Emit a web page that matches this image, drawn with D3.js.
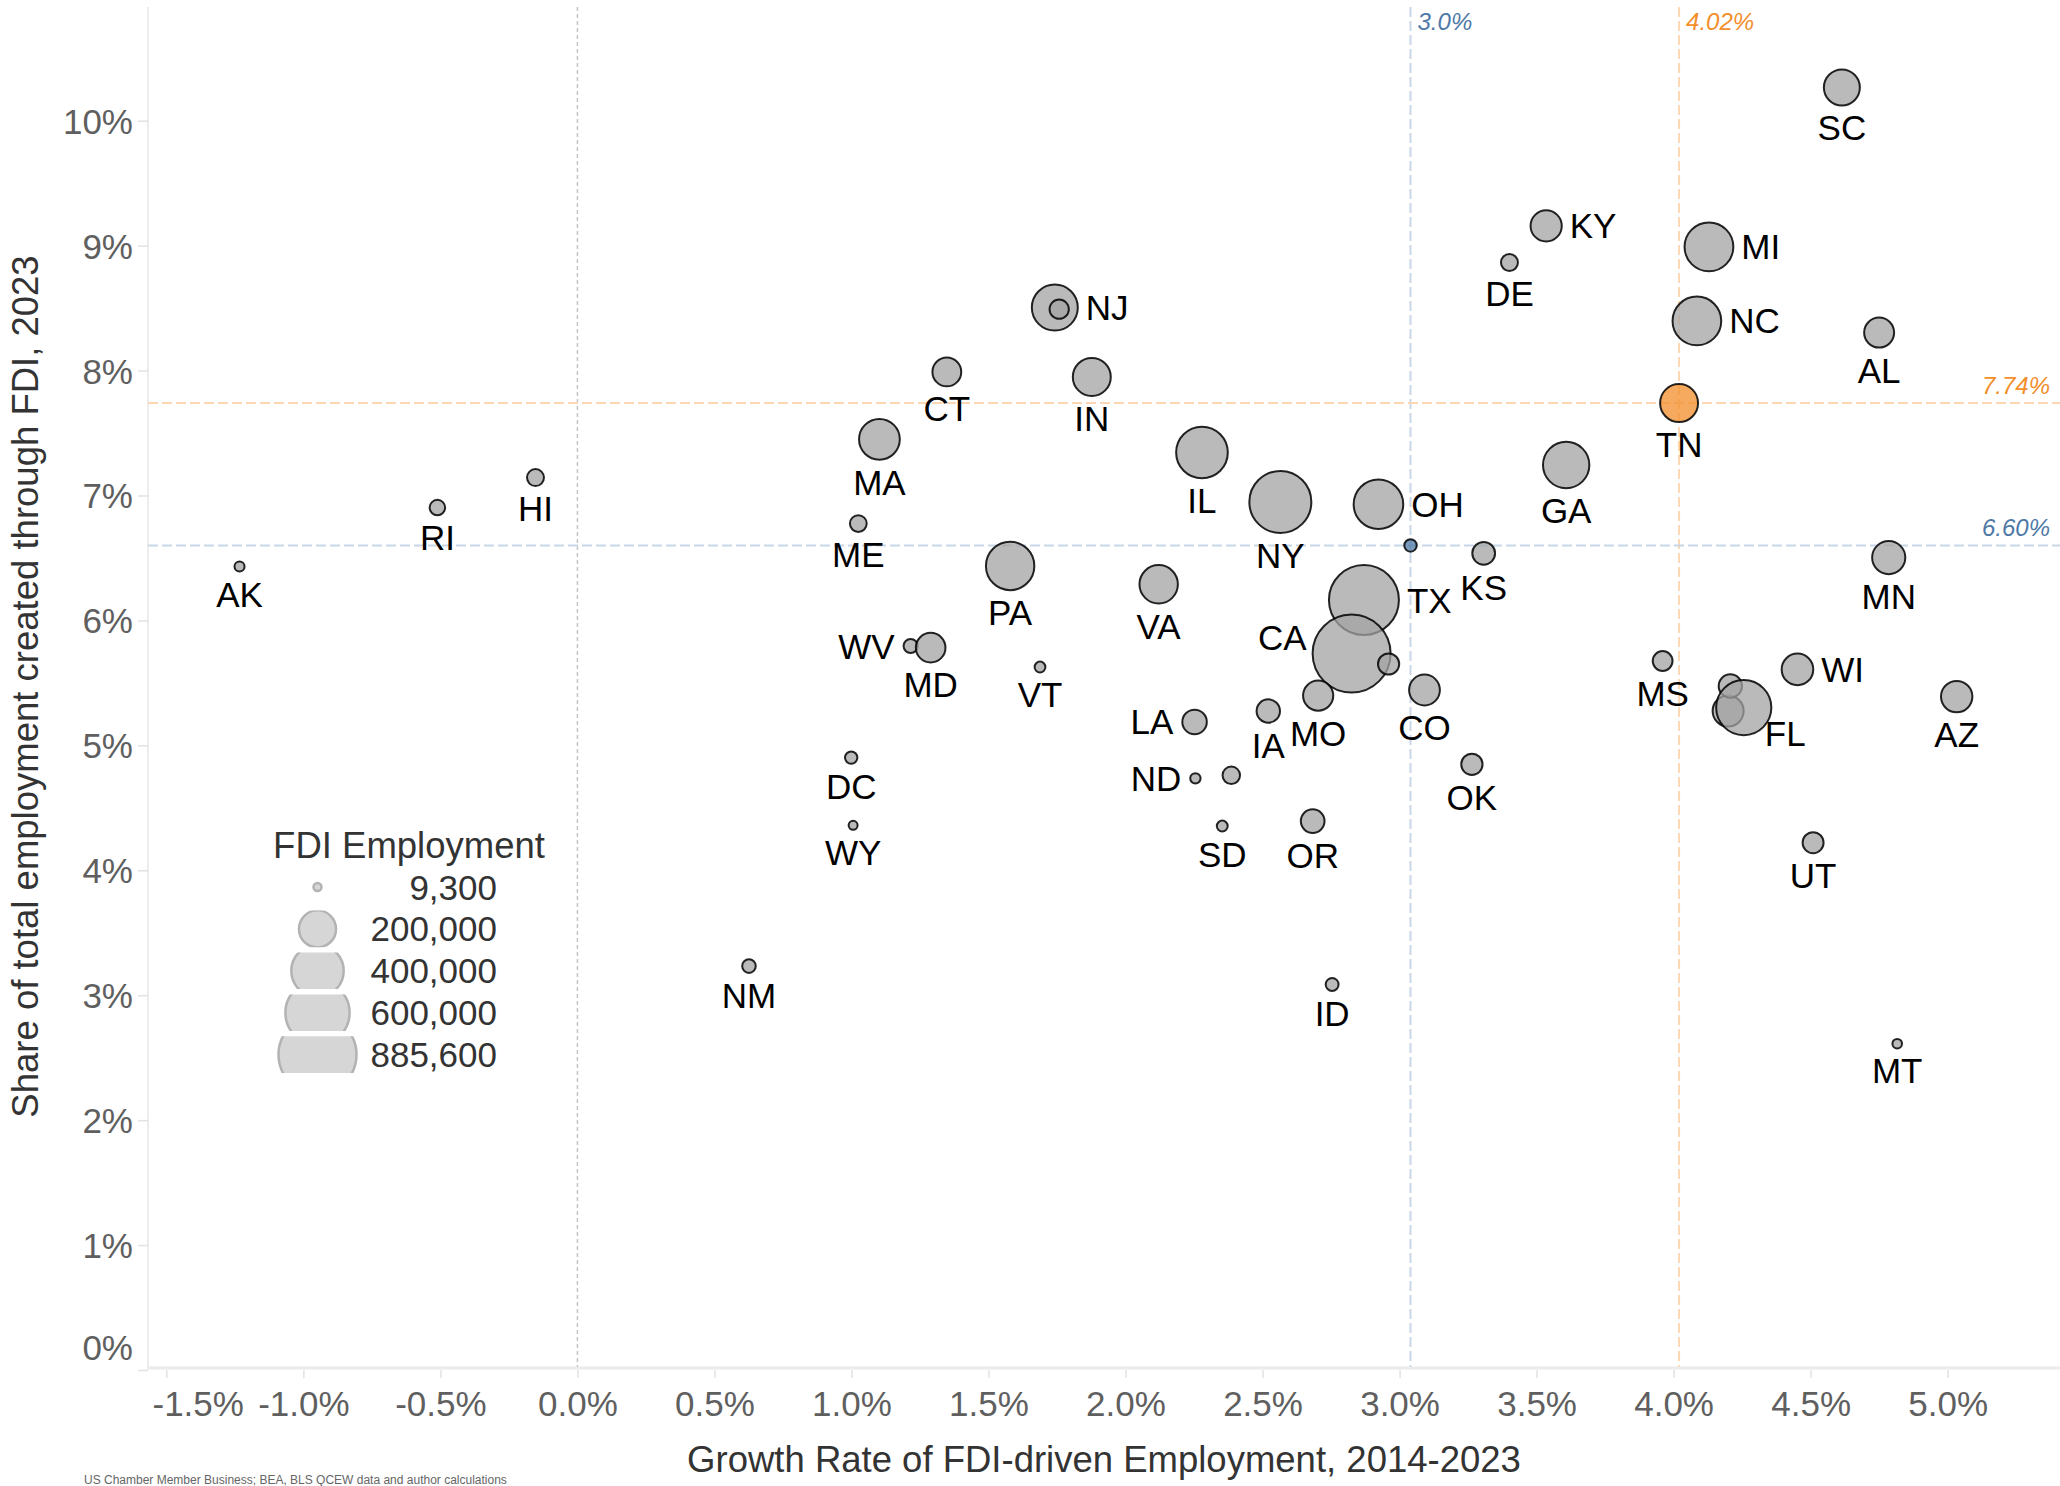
<!DOCTYPE html>
<html><head><meta charset="utf-8">
<script src="https://cdn.jsdelivr.net/npm/d3@7"></script>
<style>
html,body{margin:0;padding:0;background:#fff;}
svg{display:block;font-family:"Liberation Sans",Arial,sans-serif;}
</style></head><body>
<svg id="chart" width="2060" height="1486"></svg>
<script>
// ---------- DATA ----------
const states = ["AK","RI","HI","NJ","NH","CT","IN","MA","IL","ME","NY","OH","PA","VA","WV","MD","VT","TX","CA","NV","MO","IA","LA","ND","NE","SD","OR","DC","WY","NM","ID","CO","KS","OK","US","DE","KY","GA","MS","TN","NC","MI","WA","AR","FL","WI","UT","SC","AL","MN","MT","AZ"];
const growthRate = [-1.233,-0.511,-0.153,1.742,1.758,1.348,1.877,1.102,2.279,1.025,2.565,2.923,1.579,2.121,1.216,1.289,1.688,2.870,2.825,2.960,2.703,2.521,2.252,2.255,2.386,2.353,2.683,0.999,1.006,0.626,2.754,3.091,3.307,3.264,3.04,3.401,3.535,3.608,3.960,4.02,4.085,4.129,4.199,4.207,4.256,4.452,4.509,4.614,4.750,4.785,4.816,5.033];
const fdiShare = [6.431,6.903,7.143,8.504,8.491,7.989,7.949,7.450,7.344,6.775,6.948,6.930,6.436,6.289,5.795,5.782,5.627,6.163,5.735,5.651,5.398,5.275,5.187,4.736,4.760,4.354,4.394,4.902,4.360,3.233,3.086,5.443,6.537,4.848,6.60,8.865,9.158,7.244,5.675,7.74,8.397,8.990,5.275,5.475,5.302,5.608,4.221,10.266,8.304,6.503,2.612,5.390];
const fdiEmployment = [14800,35000,42000,308000,54000,121000,210000,242000,389000,41000,560000,358000,341000,215000,29300,127500,17000,713000,885600,65400,132800,79700,87400,15700,44600,17300,81800,22400,11800,26900,24200,138000,75700,66000,22400,42000,141700,313000,57000,210000,345000,347000,140000,79000,443500,145300,64200,188600,131000,160400,13400,143500];

const xTickValues = [-1.5,-1.0,-0.5,0.0,0.5,1.0,1.5,2.0,2.5,3.0,3.5,4.0,4.5,5.0];
const yTickValues = [0,1,2,3,4,5,6,7,8,9,10];
const legendValues = [9300,200000,400000,600000,885600];
const legendLabels = ["9,300","200,000","400,000","600,000","885,600"];

const usRef = {growth:3.04, share:6.60, growthLabel:"3.0%", shareLabel:"6.60%"};
const tnRef = {growth:4.02, share:7.74, growthLabel:"4.02%", shareLabel:"7.74%"};

const xTitle = "Growth Rate of FDI-driven Employment, 2014-2023";
const yTitle = "Share of total employment created through FDI, 2023";
const legendTitle = "FDI Employment";
const sourceNote = "US Chamber Member Business; BEA, BLS QCEW data and author calculations";

// ---------- LAYOUT / STYLE ----------
const unlabeled = new Set(["NH","NV","NE","US","WA","AR"]);
const labelSide = {NJ:"r",OH:"r",TX:"r",KY:"r",NC:"r",MI:"r",WI:"r",WV:"l",LA:"l",ND:"l",CA:"lu",FL:"br"};
const highlight = {TN:"#f28e2b", US:"#4e79a7"};
const FONT = 35;
const TITLE_FONT = 36.5;

const svg = d3.select("#chart");
const W = 2060, H = 1486;
const plot = {left:148, right:2060, top:7, bottom:1370};

const x = d3.scaleLinear().domain([-1.567, 5.41]).range([plot.left, plot.right]);
const y = d3.scaleLinear().domain([0, 10.91]).range([plot.bottom, plot.top]);
const r = d3.scaleSqrt().domain([0, 885600]).range([0, 39]);

svg.append("rect").attr("width",W).attr("height",H).attr("fill","#fff");

// axis lines
svg.append("line").attr("x1",plot.left).attr("x2",plot.left).attr("y1",plot.top).attr("y2",plot.bottom)
  .attr("stroke","#ededed").attr("stroke-width",2);
svg.append("line").attr("x1",plot.left).attr("x2",plot.right).attr("y1",plot.bottom-2).attr("y2",plot.bottom-2)
  .attr("stroke","#ebebeb").attr("stroke-width",3);

// x axis
const gx = svg.append("g").attr("transform",`translate(0,${plot.bottom})`)
  .call(d3.axisBottom(x).tickValues(xTickValues).tickFormat(d => d.toFixed(1)+"%").tickSize(8));
gx.select(".domain").remove();
gx.selectAll(".tick line").attr("stroke","#e3e3e3").attr("stroke-width",1.5);
gx.selectAll(".tick text").attr("fill","#5f5f5f").attr("font-size",FONT)
  .attr("font-family","'Liberation Sans',Arial,sans-serif")
  .attr("y",45.5).attr("dy",0)
  .each(function(d){
    const t = d3.select(this);
    const w = this.getComputedTextLength();
    const cx = x(d);
    if (cx - w/2 < plot.left + 4) t.attr("x", plot.left + 4 + w/2 - cx);
  });

// y axis
const gy = svg.append("g").attr("transform",`translate(${plot.left},0)`)
  .call(d3.axisLeft(y).tickValues(yTickValues).tickFormat(d => d+"%").tickSize(10));
gy.select(".domain").remove();
gy.selectAll(".tick line").attr("stroke","#e3e3e3").attr("stroke-width",1.5);
gy.selectAll(".tick text").attr("fill","#5f5f5f").attr("font-size",FONT)
  .attr("font-family","'Liberation Sans',Arial,sans-serif")
  .attr("x",-15).attr("dy",0)
  .attr("y", d => Math.min(12.5, (plot.bottom - 10.5) - y(d)));

// zero line
svg.append("line").attr("x1",x(0)).attr("x2",x(0)).attr("y1",plot.top).attr("y2",plot.bottom-3)
  .attr("stroke","#c4c4c4").attr("stroke-width",1.5).attr("stroke-dasharray","4,3");

// reference lines
const refLines = [
  {type:"v", value:usRef.growth, label:usRef.growthLabel, line:"#c8d6e7", text:"#4e79a7"},
  {type:"v", value:tnRef.growth, label:tnRef.growthLabel, line:"#fdd7b3", text:"#f28e2b"},
  {type:"h", value:usRef.share, label:usRef.shareLabel, line:"#c8d6e7", text:"#4e79a7"},
  {type:"h", value:tnRef.share, label:tnRef.shareLabel, line:"#fdd7b3", text:"#f28e2b"}
];
refLines.forEach(d => {
  if (d.type === "v") {
    svg.append("line").attr("x1",x(d.value)).attr("x2",x(d.value)).attr("y1",plot.top).attr("y2",plot.bottom-3)
      .attr("stroke",d.line).attr("stroke-width",2).attr("stroke-dasharray","10,4");
    svg.append("text").attr("x",x(d.value)+7).attr("y",30).attr("font-size",24).attr("font-style","italic")
      .attr("fill",d.text).text(d.label);
  } else {
    svg.append("line").attr("x1",plot.left).attr("x2",plot.right).attr("y1",y(d.value)).attr("y2",y(d.value))
      .attr("stroke",d.line).attr("stroke-width",2).attr("stroke-dasharray","10,4");
    svg.append("text").attr("x",2050).attr("y",y(d.value)-9).attr("font-size",24).attr("font-style","italic")
      .attr("text-anchor","end").attr("fill",d.text).text(d.label);
  }
});

// data
const data = states.map((s,i) => ({state:s, gx:growthRate[i], sy:fdiShare[i], emp:fdiEmployment[i]}));

const gBubbles = svg.append("g");
gBubbles.selectAll("circle").data(data).join("circle")
  .attr("cx", d => x(d.gx)).attr("cy", d => y(d.sy)).attr("r", d => r(d.emp))
  .attr("fill", d => highlight[d.state] || "#a3a3a3")
  .attr("fill-opacity", 0.75)
  .attr("stroke", "#000").attr("stroke-opacity", 0.85).attr("stroke-width", 2);

const gLabels = svg.append("g").attr("font-size",FONT).attr("fill","#000");
data.filter(d => !unlabeled.has(d.state)).forEach(d => {
  const cx = x(d.gx), cy = y(d.sy), rr = r(d.emp);
  const side = labelSide[d.state] || "b";
  let tx, ty, anchor;
  if (side === "b") { tx = cx; ty = cy + rr + 35; anchor = "middle"; }
  else if (side === "r") { tx = cx + rr + 8; ty = cy + 12.5; anchor = "start"; }
  else if (side === "l") { tx = cx - rr - 9; ty = cy + 12.5; anchor = "end"; }
  else if (side === "lu") { tx = cx - rr - 6; ty = cy - 3.5; anchor = "end"; }
  else if (side === "br") { tx = cx + 21; ty = cy + 38; anchor = "start"; }
  gLabels.append("text").attr("x",tx).attr("y",ty).attr("text-anchor",anchor).text(d.state);
});

// legend
const lg = svg.append("g");
lg.append("text").attr("x",409).attr("y",858).attr("text-anchor","middle").attr("font-size",TITLE_FONT)
  .attr("fill","#333").text(legendTitle);
const defs = svg.append("defs");
legendValues.forEach((v,i) => {
  const cy = 887 + i*41.9;
  defs.append("clipPath").attr("id","lgclip"+i).append("rect")
    .attr("x",260).attr("y",cy-18.3).attr("width",120).attr("height",36.6);
  lg.append("circle").attr("cx",317.5).attr("cy",cy).attr("r",r(v))
    .attr("fill","#d6d6d6").attr("stroke","#b3b3b3").attr("stroke-width",2.5)
    .attr("clip-path",`url(#lgclip${i})`);
  lg.append("text").attr("x",497).attr("y",cy+12.5).attr("text-anchor","end").attr("font-size",FONT)
    .attr("fill","#333").text(legendLabels[i]);
});

// axis titles
svg.append("text").attr("x",(plot.left+plot.right)/2).attr("y",1472).attr("text-anchor","middle")
  .attr("font-size",TITLE_FONT).attr("fill","#333").text(xTitle);
svg.append("text").attr("transform","translate(38,686.5) rotate(-90)").attr("text-anchor","middle")
  .attr("font-size",TITLE_FONT).attr("fill","#333").text(yTitle);

// source note at the very bottom edge
svg.append("text").attr("x",84).attr("y",1484).attr("font-size",12).attr("fill","#666").text(sourceNote);
</script>
</body></html>
